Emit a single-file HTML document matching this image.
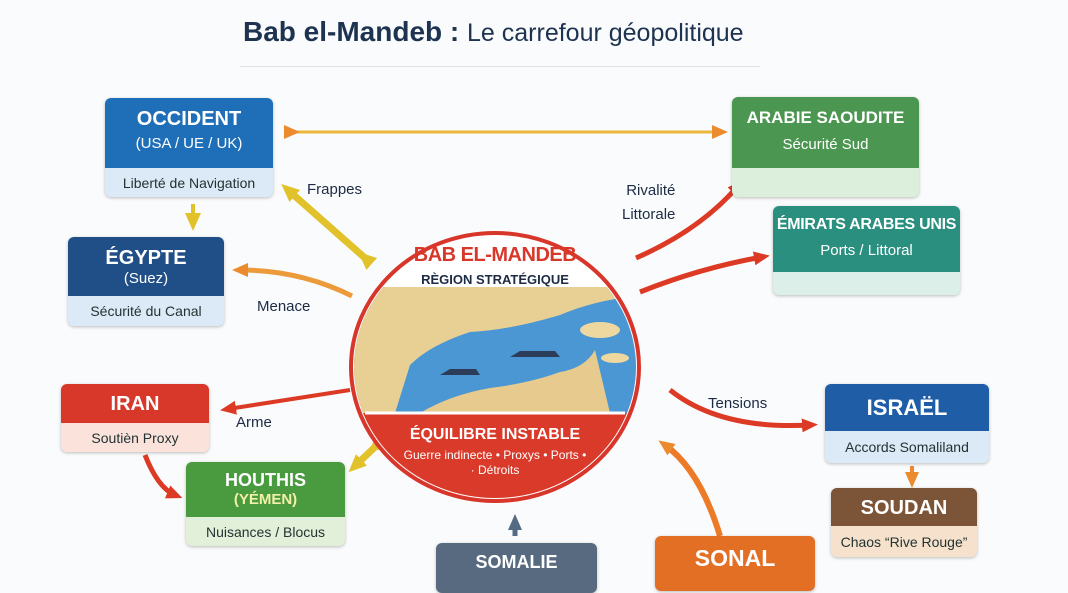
<!DOCTYPE html>
<html><head><meta charset="utf-8"><style>
body{margin:0;width:1068px;height:580px;overflow:hidden;background:#fafbfc;font-family:"Liberation Sans",sans-serif;position:relative}
.b{position:absolute;border-radius:6px;overflow:hidden;box-shadow:0 1px 3px rgba(0,0,0,.25);text-align:center;color:#fff}
.h{position:absolute;left:0;right:0;top:0}
.f{position:absolute;left:0;right:0;bottom:0;color:#233;font-size:14px;display:flex;align-items:center;justify-content:center}
.t{font-weight:bold;font-size:20px}
.s{font-size:15px}
.lbl{position:absolute;font-size:15px;color:#1d2b44}
</style></head><body>
<div style="position:absolute;left:243px;top:16px;font-size:28px;color:#1d3350"><b>Bab el-Mandeb :</b> <span style="font-size:25px">Le carrefour géopolitique</span></div>
<div style="position:absolute;left:240px;top:66px;width:520px;height:1px;background:#dde2e8"></div>

<svg width="1068" height="580" style="position:absolute;left:0;top:0">
<defs>
<marker id="y" markerUnits="userSpaceOnUse" markerWidth="18" markerHeight="18" refX="9" refY="9" orient="auto"><path d="M0,1L18,9L0,17z" fill="#e2c22a"/></marker>
<marker id="o" markerUnits="userSpaceOnUse" markerWidth="16" markerHeight="16" refX="8" refY="8" orient="auto"><path d="M0,1L16,8L0,15z" fill="#ec8a2e"/></marker>
<marker id="r" markerUnits="userSpaceOnUse" markerWidth="16" markerHeight="16" refX="8" refY="8" orient="auto"><path d="M0,1L16,8L0,15z" fill="#dd3a26"/></marker>
<marker id="g" markerUnits="userSpaceOnUse" markerWidth="16" markerHeight="16" refX="8" refY="8" orient="auto"><path d="M0,1L16,8L0,15z" fill="#556b84"/></marker>
<clipPath id="c"><ellipse cx="495" cy="367" rx="141" ry="131"/></clipPath>
</defs>
<g fill="none" stroke-width="4">
<path d="M292,132L720,132" stroke="#e9b73a" stroke-width="3" marker-end="url(#o)" marker-start="url(#o)"/>
<path d="M193,204L193,222" stroke="#e2c22a" stroke-width="4" marker-end="url(#y)"/>
<path d="M365,258L288,190" stroke="#e2c22a" stroke-width="7" marker-end="url(#y)" marker-start="url(#y)"/>
<path d="M352,296Q300,270 240,270" stroke="#ec9a3a" stroke-width="5" marker-end="url(#o)"/>
<path d="M350,390L228,409" stroke="#dd3a26" stroke-width="4" marker-end="url(#r)"/>
<path d="M145,455Q158,488 175,495" stroke="#dd3a26" stroke-width="5" marker-end="url(#r)"/>
<path d="M375,447L355,466" stroke="#e2c22a" stroke-width="7" marker-end="url(#y)" marker-start="url(#y)"/>
<path d="M636,258Q700,230 738,186" stroke="#dd3a26" stroke-width="5" marker-end="url(#r)"/>
<path d="M640,292Q700,268 762,257" stroke="#dd3a26" stroke-width="5" marker-end="url(#r)"/>
<path d="M826,170L826,186" stroke="#dd3a26" stroke-width="4" marker-end="url(#r)"/>
<path d="M670,390Q720,430 810,425" stroke="#dd3a26" stroke-width="5" marker-end="url(#r)"/>
<path d="M912,466L912,480" stroke="#ec8a2e" stroke-width="4" marker-end="url(#o)"/>
<path d="M515,536L515,522" stroke="#556b84" stroke-width="5" marker-end="url(#g)"/>
<path d="M720,536Q700,470 665,445" stroke="#ec7a26" stroke-width="6" marker-end="url(#o)"/>
</g>
<ellipse cx="495" cy="367" rx="144" ry="134" fill="#fff" stroke="#d8362a" stroke-width="4"/>
<g clip-path="url(#c)">
<rect x="350" y="287" width="300" height="126" fill="#4a97d4"/>
<path d="M350,287L650,287L650,295Q600,298 560,315Q510,330 470,332Q430,345 410,365L395,413L350,413z" fill="#e8cf94"/>
<path d="M420,413Q450,395 490,388Q530,383 560,372Q585,368 595,350L610,413z" fill="#e6ca8e"/>
<ellipse cx="600" cy="330" rx="20" ry="8" fill="#efd8a0"/>
<ellipse cx="615" cy="358" rx="14" ry="5" fill="#efd8a0"/>
<path d="M510,357L560,357L555,351L520,351z" fill="#2c3d5a"/>
<path d="M440,375L480,375L476,369L450,369z" fill="#2c3d5a"/>
<rect x="350" y="413" width="300" height="100" fill="#d93a2a"/>
</g>
<line x1="365" y1="413" x2="625" y2="413" stroke="#fff" stroke-width="3"/>
</svg>
<div style="position:absolute;left:350px;top:244px;width:290px;text-align:center;color:#d8382a;font-weight:bold;font-size:20px;letter-spacing:-0.5px">BAB EL-MANDEB</div>
<div style="position:absolute;left:350px;top:272px;width:290px;text-align:center;color:#1d2b44;font-weight:bold;font-size:13px">RÈGION STRATÉGIQUE</div>
<div style="position:absolute;left:350px;top:426px;width:290px;text-align:center;color:#fff;font-weight:bold;font-size:16px">ÉQUILIBRE INSTABLE</div>
<div style="position:absolute;left:400px;top:448px;width:190px;text-align:center;color:#fff;font-size:12px;line-height:15px">Guerre indinecte • Proxys • Ports •<br>· Détroits</div>

<div class="lbl" style="left:307px;top:181px">Frappes</div>
<div class="lbl" style="left:257px;top:298px">Menace</div>
<div class="lbl" style="left:236px;top:414px">Arme</div>
<div class="lbl" style="left:622px;top:179px;line-height:24px;text-align:right">Rivalité<br>Littorale</div>
<div class="lbl" style="left:708px;top:395px">Tensions</div>

<div class="b" style="left:105px;top:98px;width:168px;height:99px;background:#dce9f6"><div class="h" style="height:70px;background:#1f6fb8"><div class="t" style="margin-top:10px">OCCIDENT</div><div class="s" style="margin-top:4px">(USA / UE / UK)</div></div><div class="f" style="height:29px">Liberté de Navigation</div></div>
<div class="b" style="left:68px;top:237px;width:156px;height:89px;background:#dce9f6"><div class="h" style="height:59px;background:#1f4f86"><div class="t" style="margin-top:10px">ÉGYPTE</div><div class="s">(Suez)</div></div><div class="f" style="height:30px">Sécurité du Canal</div></div>
<div class="b" style="left:61px;top:384px;width:148px;height:68px;background:#fbe3dc"><div class="h" style="height:39px;background:#d8382a"><div class="t" style="margin-top:9px">IRAN</div></div><div class="f" style="height:29px">Soutièn Proxy</div></div>
<div class="b" style="left:186px;top:462px;width:159px;height:84px;background:#e2f0d9"><div class="h" style="height:55px;background:#4a9a3f"><div class="t" style="margin-top:8px;font-size:18px">HOUTHIS</div><div class="s" style="font-weight:bold;color:#f3f0a8">(YÉMEN)</div></div><div class="f" style="height:29px">Nuisances / Blocus</div></div>
<div class="b" style="left:732px;top:97px;width:187px;height:100px;background:#dcefdc"><div class="h" style="height:71px;background:#4b9650"><div class="t" style="margin-top:11px;font-size:17px">ARABIE SAOUDITE</div><div class="s" style="margin-top:8px">Sécurité Sud</div></div></div>
<div class="b" style="left:773px;top:206px;width:187px;height:89px;background:#dcefe9"><div class="h" style="height:66px;background:#2a8f7f"><div class="t" style="margin-top:10px;font-size:16px;letter-spacing:-0.3px">ÉMIRATS ARABES UNIS</div><div class="s" style="margin-top:8px">Ports / Littoral</div></div></div>
<div class="b" style="left:825px;top:384px;width:164px;height:79px;background:#dce9f6"><div class="h" style="height:47px;background:#1f5ea6"><div class="t" style="margin-top:11px;font-size:22px">ISRAËL</div></div><div class="f" style="height:32px">Accords Somaliland</div></div>
<div class="b" style="left:831px;top:488px;width:146px;height:69px;background:#f6e2cc"><div class="h" style="height:38px;background:#7c5438"><div class="t" style="margin-top:9px">SOUDAN</div></div><div class="f" style="height:31px">Chaos “Rive Rouge”</div></div>
<div class="b" style="left:436px;top:543px;width:161px;height:50px;background:#576a80"><div class="t" style="margin-top:9px;font-size:18px">SOMALIE</div></div>
<div class="b" style="left:655px;top:536px;width:160px;height:55px;background:#e36f25"><div class="t" style="margin-top:9px;font-size:23px">SONAL</div></div>
</body></html>
